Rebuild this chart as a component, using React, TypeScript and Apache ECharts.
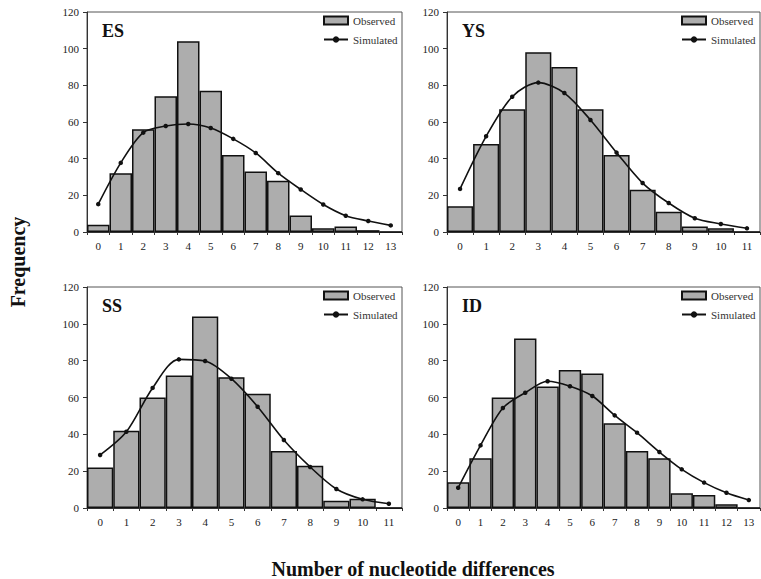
import React, { useEffect, useRef } from "react";
import * as echarts from "echarts";

const catsES = ["0", "1", "2", "3", "4", "5", "6", "7", "8", "9", "10", "11", "12", "13"];
const obsES = [4, 32, 56, 74, 104, 77, 42, 33, 28, 9, 2, 3, 1, 0];
const simES = [15.2, 37.7, 54.2, 57.8, 58.9, 56.7, 50.8, 43.1, 32.1, 23.2, 15.0, 8.9, 6.0, 3.6];

const catsYS = ["0", "1", "2", "3", "4", "5", "6", "7", "8", "9", "10", "11"];
const obsYS = [14, 48, 67, 98, 90, 67, 42, 23, 11, 3, 2, 0];
const simYS = [23.5, 52.2, 73.8, 81.5, 75.8, 61.1, 43.3, 26.7, 15.8, 7.5, 4.4, 2.0];

const catsSS = ["0", "1", "2", "3", "4", "5", "6", "7", "8", "9", "10", "11"];
const obsSS = [22, 42, 60, 72, 104, 71, 62, 31, 23, 4, 5, 0];
const simSS = [28.8, 41.4, 65.2, 80.7, 79.8, 70.2, 55.0, 36.9, 22.3, 10.3, 4.7, 2.3];

const catsID = ["0", "1", "2", "3", "4", "5", "6", "7", "8", "9", "10", "11", "12", "13"];
const obsID = [14, 27, 60, 92, 66, 75, 73, 46, 31, 27, 8, 7, 2, 0];
const simID = [11.0, 34.0, 54.3, 62.6, 68.8, 66.1, 60.8, 50.3, 40.9, 30.4, 21.0, 13.8, 8.3, 4.3];

const panelNames = ["ES", "YS", "SS", "ID"];
const yTicks = { min: 0, max: 120, interval: 20 };

const FONT = "Liberation Serif";

export default function App() {
  const ref = useRef<HTMLDivElement>(null);

  useEffect(() => {
    document.body.style.margin = "0";
    if (!ref.current) return;
    const chart = echarts.init(ref.current, undefined, { renderer: "svg" });

    const panels = [
      { name: panelNames[0], cats: catsES, obs: obsES, sim: simES, grid: { left: 87, top: 12, width: 315, height: 220 } },
      { name: panelNames[1], cats: catsYS, obs: obsYS, sim: simYS, grid: { left: 447, top: 12, width: 313, height: 220 } },
      { name: panelNames[2], cats: catsSS, obs: obsSS, sim: simSS, grid: { left: 87, top: 287, width: 315, height: 221 } },
      { name: panelNames[3], cats: catsID, obs: obsID, sim: simID, grid: { left: 447, top: 287, width: 313, height: 221 } },
    ];

    const grids: any[] = [];
    const xAxes: any[] = [];
    const yAxes: any[] = [];
    const series: any[] = [];
    const legends: any[] = [];
    const titles: any[] = [];

    panels.forEach((p, i) => {
      grids.push({
        ...p.grid,
        show: true,
        borderColor: "#555",
        borderWidth: 1,
        backgroundColor: "transparent",
      });
      xAxes.push({
        type: "category",
        gridIndex: i,
        data: p.cats,
        boundaryGap: true,
        axisLine: { lineStyle: { color: "#333", width: 1 } },
        axisTick: { show: true, length: 3, lineStyle: { color: "#333" } },
        axisLabel: { interval: 0, color: "#222", fontFamily: FONT, fontSize: 11, margin: 8 },
        splitLine: { show: false },
      });
      yAxes.push({
        type: "value",
        gridIndex: i,
        min: yTicks.min,
        max: yTicks.max,
        interval: yTicks.interval,
        axisLine: { show: true, lineStyle: { color: "#333", width: 1 } },
        axisTick: { show: true, length: 4, lineStyle: { color: "#333" } },
        axisLabel: { color: "#222", fontFamily: FONT, fontSize: 11, margin: 8 },
        splitLine: { show: false },
      });
      series.push({
        name: "Observed",
        type: "bar",
        xAxisIndex: i,
        yAxisIndex: i,
        data: p.obs,
        barCategoryGap: "0%",
        itemStyle: { color: "#adadad", borderColor: "#111", borderWidth: 1.5 },
      });
      series.push({
        name: "Simulated",
        type: "line",
        xAxisIndex: i,
        yAxisIndex: i,
        data: p.sim,
        smooth: 0.3,
        symbol: "circle",
        symbolSize: 4.5,
        itemStyle: { color: "#111" },
        lineStyle: { color: "#111", width: 1.6 },
      });
      const gr = p.grid.left + p.grid.width;
      legends.push({
        orient: "vertical",
        left: gr - 79,
        top: p.grid.top + 3,
        padding: 0,
        itemWidth: 24,
        itemHeight: 8,
        itemGap: 8,
        seriesIndex: [i * 2, i * 2 + 1],
        data: [
          { name: "Observed", icon: "rect" },
          { name: "Simulated" },
        ],
        textStyle: { fontFamily: FONT, fontSize: 11, color: "#333" },
        selectedMode: false,
      });
      titles.push({
        text: p.name,
        left: p.grid.left + 10,
        top: p.grid.top + 5,
        textStyle: { fontFamily: FONT, fontSize: 18, fontWeight: "bold", color: "#111" },
      });
    });

    const option: any = {
      animation: false,
      backgroundColor: "#fff",
      title: titles,
      grid: grids,
      xAxis: xAxes,
      yAxis: yAxes,
      legend: legends,
      series,
      graphic: [
        {
          type: "text",
          x: 18,
          y: 262,
          rotation: Math.PI / 2,
          style: {
            text: "Frequency",
            font: `bold 20px ${FONT}`,
            fill: "#111",
            textAlign: "center",
            textVerticalAlign: "middle",
          },
        },
        {
          type: "text",
          x: 413,
          y: 569,
          style: {
            text: "Number of nucleotide differences",
            font: `bold 20px ${FONT}`,
            fill: "#111",
            textAlign: "center",
            textVerticalAlign: "middle",
          },
        },
      ],
    };
    chart.setOption(option);
    return () => chart.dispose();
  }, []);

  return <div ref={ref} style={{ width: 761, height: 579 }} />;
}
